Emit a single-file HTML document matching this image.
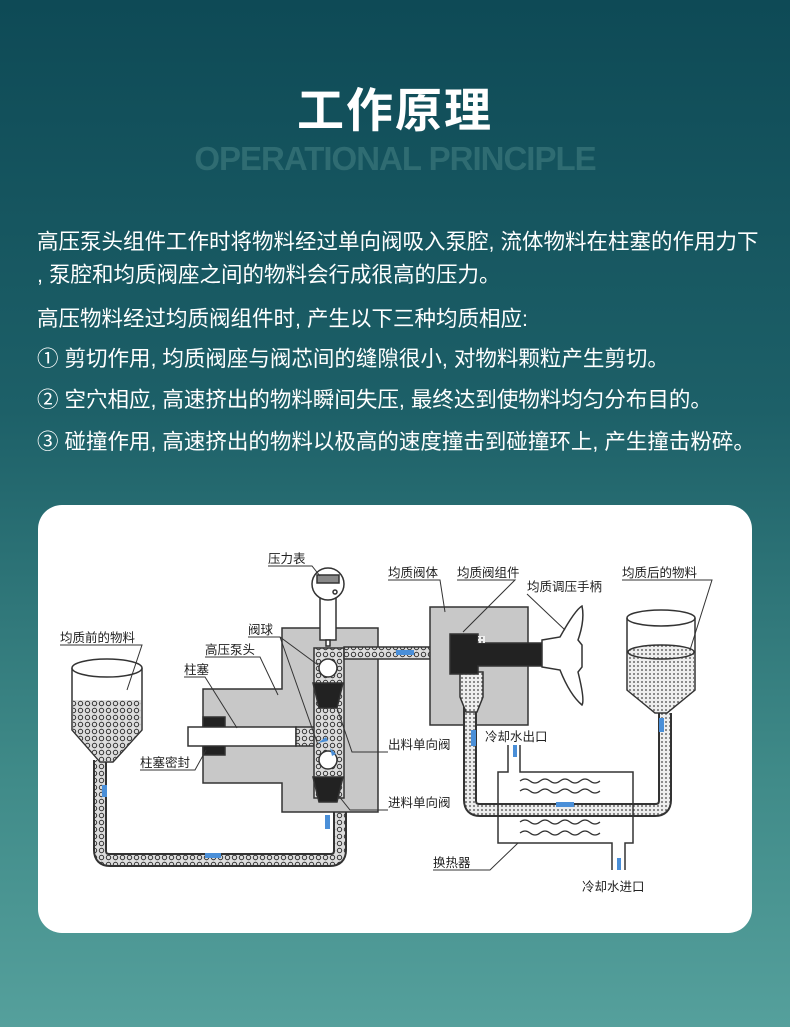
<!DOCTYPE html>
<html><head><meta charset="utf-8">
<style>
html,body{margin:0;padding:0}
body{width:790px;height:1027px;overflow:hidden;position:relative;
background:linear-gradient(180deg,#0e4a56 0%,#1d6068 40%,#3f8a88 75%,#55a09c 100%);
font-family:"Liberation Sans","Noto Sans CJK SC",sans-serif;color:#fff}
.t{position:absolute;left:0;width:790px;text-align:center}
.p{position:absolute;left:37px;font-size:21.5px;white-space:nowrap;line-height:1;color:#fff}
.card{position:absolute;left:38px;top:505px;width:714px;height:428px;background:#fff;border-radius:24px}
svg{position:absolute;left:0;top:0}
</style></head><body>
<div class="t" style="top:72px;font-size:47px;font-weight:bold;letter-spacing:2px">工作原理</div>
<div class="t" style="top:140px;font-size:33px;font-weight:bold;color:#2f6c72;letter-spacing:-1px">OPERATIONAL PRINCIPLE</div>
<div class="p" style="top:232px">高压泵头组件工作时将物料经过单向阀吸入泵腔, 流体物料在柱塞的作用力下</div>
<div class="p" style="top:265px">, 泵腔和均质阀座之间的物料会行成很高的压力。</div>
<div class="p" style="top:309px">高压物料经过均质阀组件时, 产生以下三种均质相应:</div>
<div class="p" style="top:349px">① 剪切作用, 均质阀座与阀芯间的缝隙很小, 对物料颗粒产生剪切。</div>
<div class="p" style="top:390px">② 空穴相应, 高速挤出的物料瞬间失压, 最终达到使物料均匀分布目的。</div>
<div class="p" style="top:432px">③ 碰撞作用, 高速挤出的物料以极高的速度撞击到碰撞环上, 产生撞击粉碎。</div>
<div class="card"></div>
<svg width="790" height="1027" viewBox="0 0 790 1027">
<defs>
<pattern id="dots" width="7" height="7" patternUnits="userSpaceOnUse">
<rect width="7" height="7" fill="#ddd"/><circle cx="3.5" cy="3.5" r="2.2" fill="none" stroke="#333" stroke-width="1"/></pattern>
<pattern id="fine" width="4" height="4" patternUnits="userSpaceOnUse">
<rect width="4" height="4" fill="#eee"/><circle cx="2" cy="2" r="0.9" fill="#444"/></pattern>
</defs>
<g stroke="#333" stroke-width="1.5">
<path d="M100 760 V850 Q100 860 110 860 H330 Q340 860 340 850 V800" fill="none" stroke="#333" stroke-width="14"/>
<path d="M100 760 V850 Q100 860 110 860 H330 Q340 860 340 850 V800" fill="none" stroke="url(#dots)" stroke-width="10"/>
<path d="M72 668 V730 L100 762 H113 L142 730 V668" fill="#fff"/>
<path d="M73 700 H141 V730 L113 761 H100 L73 730 Z" fill="url(#dots)" stroke="none"/>
<ellipse cx="107" cy="668" rx="35" ry="9" fill="#fff"/>
<path d="M282 628 H378 V812 H282 V783 H203 V689 H282 Z" fill="#c8c8c8"/>
<rect x="203" y="717" width="22" height="38" fill="#222"/>
<rect x="188" y="727" width="108" height="19" fill="#fff"/>
<rect x="296" y="727" width="20" height="19" fill="url(#dots)"/>
<rect x="314" y="648" width="30" height="150" fill="url(#dots)"/>
<rect x="344" y="647" width="88" height="12" fill="url(#dots)"/>
<circle cx="328" cy="668" r="9" fill="#fff"/>
<circle cx="328" cy="760" r="9" fill="#fff"/>
<path d="M313 683 H343 L337 708 H319 Z" fill="#222"/>
<path d="M313 777 H343 L337 802 H319 Z" fill="#222"/>
<rect x="320" y="598" width="16" height="42" fill="#fff"/>
<rect x="326" y="640" width="4" height="6" fill="#fff"/>
<circle cx="328" cy="584" r="16" fill="#fff"/>
<rect x="317" y="575" width="22" height="8" fill="#888"/>
<circle cx="335" cy="592" r="2" fill="#fff"/>
<rect x="430" y="607" width="98" height="118" fill="#c8c8c8"/>
<path d="M470 700 V800 Q470 810 480 810 H655 Q665 810 665 800 V713" fill="none" stroke="#333" stroke-width="14"/>
<path d="M470 700 V800 Q470 810 480 810 H655 Q665 810 665 800 V713" fill="none" stroke="url(#fine)" stroke-width="10"/>
<path d="M460 672 H483 V697 L477 712 H466 L460 697 Z" fill="url(#fine)"/>
<path d="M450 634 H478 V643 H542 V666 H478 V674 H450 Z" fill="#222"/>
<rect x="478" y="636" width="7" height="7" fill="url(#fine)" stroke="none"/>
<path d="M542 640 L560 637 Q575 610 582 606 Q585 620 578 640 L582 645 V667 L578 672 Q585 700 582 705 Q570 695 560 670 L542 667 Z" fill="#fff"/>
<path d="M508 745 V772 H498 V843 H612 V870 M625 870 V843 H633 V772 H520 V745" fill="none"/>
<g fill="none" stroke-width="1.2">
<path d="M520 781 q5 -4 10 0 t10 0 t10 0 t10 0 t10 0 t10 0 t10 0 t10 0"/>
<path d="M520 791 q5 -4 10 0 t10 0 t10 0 t10 0 t10 0 t10 0 t10 0 t10 0"/>
<path d="M520 822 q5 -4 10 0 t10 0 t10 0 t10 0 t10 0 t10 0 t10 0 t10 0"/>
<path d="M520 833 q5 -4 10 0 t10 0 t10 0 t10 0 t10 0 t10 0 t10 0 t10 0"/>
</g>
<path d="M627 618 V690 L655 713 H667 L695 690 V618" fill="#fff"/>
<path d="M628 652 H694 V690 L667 712 H655 L628 690 Z" fill="url(#fine)" stroke="none"/>
<ellipse cx="661" cy="652" rx="33" ry="7" fill="url(#fine)"/>
<ellipse cx="661" cy="618" rx="34" ry="8" fill="none"/>
</g>
<g fill="#4a8fd8">
<rect x="102" y="785" width="5" height="12"/><rect x="205" y="853" width="16" height="5"/>
<rect x="325" y="815" width="5" height="14"/><rect x="396" y="650" width="18" height="5"/>
<rect x="556" y="802" width="18" height="5"/><rect x="471" y="730" width="5" height="16"/>
<rect x="659" y="718" width="5" height="14"/><rect x="513" y="745" width="4" height="12"/>
<rect x="617" y="858" width="4" height="12"/>
<path d="M318 743 l8 -6 l2 4 Z"/><path d="M330 748 l6 6 l-4 2 Z"/>
</g>
<g stroke="#333" stroke-width="1" fill="none">
<path d="M268 566 H312 L320 576"/>
<path d="M60 645 H142 L127 690"/>
<path d="M205 657 H260 L278 695"/>
<path d="M184 677 H205 L237 728"/>
<path d="M248 637 H280 L318 665 M280 637 L318 745"/>
<path d="M140 770 H195 L206 750"/>
<path d="M388 752 H352 L337 708"/>
<path d="M388 810 H350 L338 795"/>
<path d="M388 580 H440 L445 612"/>
<path d="M457 580 H515 L463 632"/>
<path d="M527 594 L565 630"/>
<path d="M622 580 H712 L690 650"/>
<path d="M433 870 H490 L518 843"/>
</g>
<g font-size="12.5" fill="#222" font-family="Liberation Sans,Noto Sans CJK SC,sans-serif">
<text x="268" y="563">压力表</text>
<text x="60" y="642">均质前的物料</text>
<text x="205" y="654">高压泵头</text>
<text x="184" y="674">柱塞</text>
<text x="248" y="634">阀球</text>
<text x="140" y="767">柱塞密封</text>
<text x="388" y="749">出料单向阀</text>
<text x="388" y="807">进料单向阀</text>
<text x="388" y="577">均质阀体</text>
<text x="457" y="577">均质阀组件</text>
<text x="527" y="591">均质调压手柄</text>
<text x="622" y="577">均质后的物料</text>
<text x="485" y="741">冷却水出口</text>
<text x="433" y="867">换热器</text>
<text x="582" y="891">冷却水进口</text>
</g>
</svg>
</body></html>
